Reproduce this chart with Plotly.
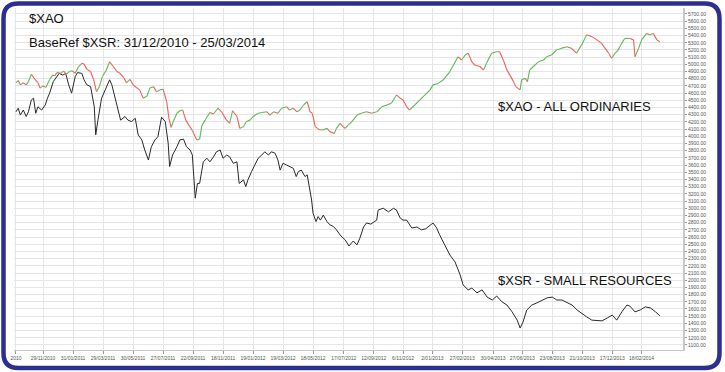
import plotly.graph_objects as go

# ---------------- data (trading-day index since start, index level) ----------------
xao_day = [0, 3, 6, 10, 14, 17, 21, 26, 30, 33, 37, 41, 46, 50, 53, 56, 61, 65, 69, 73, 77,
           81, 85, 90, 93, 97, 102, 106, 110, 114, 118, 123, 128, 133, 138, 142, 147, 151, 156,
           160, 165, 169, 174, 179, 183, 188, 192, 197, 201, 206, 209, 212, 215, 220, 224, 228,
           232, 237, 241, 247, 251, 254, 260, 265, 270, 276, 281, 287,
           292, 296, 302, 306, 311, 315, 320, 324, 331, 336, 343, 347, 352, 358, 363, 370, 374,
           379, 384, 388, 393, 398, 402, 405, 409, 412, 415, 420, 425, 429, 435, 438, 443, 447,
           450, 454, 459, 466, 472, 479, 486, 493, 500, 507, 513, 520, 525, 529, 534, 538, 545,
           552, 559, 566, 570, 577, 584,
           593, 598, 604, 609, 614, 618, 623, 627, 634, 639, 643, 650, 657, 661, 666, 671, 675,
           680, 683, 689, 691, 696, 699, 702, 707, 714, 721, 725, 732, 739, 746, 753, 759, 766,
           773, 780, 787, 794, 800, 805, 810, 814, 819, 823, 828, 832, 839, 844, 846, 851, 855,
           862, 866, 871, 876, 880]
xao_val = [4745, 4775, 4715, 4745, 4715, 4760, 4860, 4790, 4745, 4670, 4700, 4680, 4790, 4850,
           4840, 4885, 4875, 4905, 4865, 4900, 4910, 4875, 4960, 5015, 5005, 4930, 4900, 4790,
           4620, 4690, 4830, 4910, 5035, 4970, 4900, 4875, 4820, 4745, 4790, 4715, 4675, 4645,
           4530, 4560, 4670, 4690, 4620, 4645, 4655, 4480, 4250, 4125, 4205, 4320, 4355, 4365,
           4225, 4145, 4080, 3950, 3960, 4145, 4250, 4330, 4310, 4390, 4340, 4235,
           4180, 4355, 4275, 4110, 4135, 4205, 4225, 4275, 4320, 4330, 4340, 4295, 4340, 4320,
           4390, 4410, 4365, 4390, 4340, 4365, 4435, 4480, 4340, 4320, 4135, 4110, 4090, 4090,
           4110, 4065, 4040, 4110, 4180, 4135, 4110, 4155, 4205, 4295, 4320, 4340, 4320, 4340,
           4410, 4435, 4460, 4575, 4530, 4505, 4410, 4365, 4435, 4505, 4575, 4645, 4715, 4735,
           4785,
           4900, 4990, 5105, 5060, 5130, 5155, 5035, 4990, 4970, 4920, 5015, 5155, 5175, 5175,
           5060, 4920, 4850, 4760, 4690, 4645, 4785, 4805, 4760, 4920, 4970, 5035, 5060, 5105,
           5130, 5200, 5225, 5245, 5225, 5155, 5270, 5410, 5385, 5340, 5295, 5225, 5155, 5085,
           5155, 5200, 5295, 5360, 5360, 5340, 5105, 5225, 5340, 5430, 5410, 5430, 5340, 5315]

xsr_day = [0, 3, 6, 10, 14, 17, 21, 24, 27, 30, 35, 40, 43, 46, 51, 56, 59, 64, 68, 72, 76, 81,
           84, 90, 93, 97, 102, 107, 109, 112, 117, 122, 128, 131, 135, 140, 143, 149, 153, 158,
           163, 167, 172, 176, 181, 185, 190, 194, 199, 204, 208, 210, 214, 220, 224, 229, 233,
           238, 241, 245, 248, 251, 256, 261, 265, 270, 274, 279, 283, 288, 292, 297, 302, 305,
           311, 314, 317, 322, 327, 331, 336, 340, 345, 349, 354, 358, 361, 365, 370, 374, 379,
           383, 386, 390, 395, 398, 402, 404, 406, 410, 413, 416, 420, 425, 429, 434,
           438, 444, 450, 455, 461, 466, 470, 475, 479, 485, 493, 495, 502, 509, 516, 520, 525,
           529, 534, 541, 548, 554, 560, 570, 575,
           579, 586, 593, 600, 607, 611, 618, 623, 630, 637, 644, 651, 657, 664, 671, 678, 685,
           689, 693, 698, 705, 712, 719, 726, 733, 739, 746, 753, 760, 767, 774, 780, 787, 794,
           801, 808, 815, 821, 828, 835, 839, 846, 853, 860, 867, 874, 880]
xsr_val = [4340, 4390, 4295, 4365, 4275, 4340, 4505, 4530, 4320, 4410, 4365, 4435, 4530, 4600,
           4760, 4830, 4875, 4850, 4875, 4715, 4600, 4830, 4885, 4875, 4785, 4715, 4690, 4410,
           4020, 4225, 4530, 4645, 4785, 4715, 4550, 4320, 4225, 4275, 4225, 4205, 4250, 4020,
           3950, 3810, 3670, 3855, 3950, 3995, 4265, 4205, 3905, 3580, 3740, 3855, 3950, 3960,
           3855, 3810, 3740, 3140, 3345, 3345, 3645, 3695, 3645, 3715, 3785, 3810, 3695, 3740,
           3715, 3625, 3645, 3345, 3395, 3300, 3395, 3510, 3625, 3695, 3740, 3785, 3740, 3785,
           3765, 3670, 3530, 3625, 3600, 3580, 3555, 3440, 3510, 3530, 3440, 3465, 3255, 3115,
           2930, 2815, 2885, 2835, 2905, 2815, 2770, 2745,
           2700, 2615, 2560, 2475, 2545, 2490, 2585, 2740, 2795, 2780, 2835, 2975, 3000, 2950,
           3000, 2975, 2865, 2835, 2835, 2725, 2740, 2700, 2715, 2795, 2725,
           2630, 2490, 2350, 2255, 2075, 1935, 1865, 1890, 1825, 1865, 1765, 1725, 1780, 1700,
           1655, 1560, 1445, 1335, 1420, 1585, 1655, 1685, 1725, 1755, 1765, 1725, 1725, 1685,
           1655, 1585, 1530, 1490, 1445, 1445, 1435, 1475, 1515, 1445, 1560, 1655, 1640, 1560,
           1585, 1630, 1615, 1560, 1505]

x_tick_day = [0, 37, 78, 119, 160, 201, 242, 283, 324, 365, 406, 448, 489, 529, 569, 610,
              652, 692, 733, 774, 815, 855]
x_tick_text = ["2010", "29/11/2010", "31/01/2011", "29/03/2011", "30/05/2011", "27/07/2011",
               "22/09/2011", "18/11/2011", "19/01/2012", "19/03/2012", "18/05/2012",
               "17/07/2012", "12/09/2012", "6/11/2012", "2/01/2013", "27/02/2013",
               "30/04/2013", "27/06/2013", "23/08/2013", "21/10/2013", "17/12/2013",
               "18/02/2014"]
y_tick_val = list(range(1100, 5800, 100))
y_tick_text = ["%d.00" % v for v in y_tick_val]

# ---------------- figure ----------------
W, H = 725, 372
ML, MR, MT, MB = 14, 42, 8, 22
PW, PH = W - ML - MR, H - MT - MB

GREEN = "#5fb85a"
RED = "#f0605a"

fig = go.Figure()

# XSR line
fig.add_trace(go.Scatter(x=xsr_day, y=xsr_val, mode="lines",
                         line=dict(color="#2a2a2a", width=1), hoverinfo="skip",
                         showlegend=False))

# XAO line coloured by direction (green up, red down)
gx, gy, rx, ry = [], [], [], []
for i in range(len(xao_day) - 1):
    seg_x = [xao_day[i], xao_day[i + 1], None]
    seg_y = [xao_val[i], xao_val[i + 1], None]
    if xao_val[i + 1] >= xao_val[i]:
        gx += seg_x; gy += seg_y
    else:
        rx += seg_x; ry += seg_y
fig.add_trace(go.Scatter(x=gx, y=gy, mode="lines", line=dict(color=GREEN, width=1.1),
                         hoverinfo="skip", showlegend=False, connectgaps=False))
fig.add_trace(go.Scatter(x=rx, y=ry, mode="lines", line=dict(color=RED, width=1.1),
                         hoverinfo="skip", showlegend=False, connectgaps=False))


def px2paper(px, py):
    return (px - ML) / PW, (H - MB - py) / PH


# rounded navy frame
x0, y0, x1, y1, r = 3.5, 3.5, 719.5, 368, 15


def P(a, b):
    u, v = px2paper(a, b)
    return "%.5f,%.5f" % (u, v)


path = ("M " + P(x0 + r, y0) + " L " + P(x1 - r, y0) + " Q " + P(x1, y0) + " " + P(x1, y0 + r) +
        " L " + P(x1, y1 - r) + " Q " + P(x1, y1) + " " + P(x1 - r, y1) +
        " L " + P(x0 + r, y1) + " Q " + P(x0, y1) + " " + P(x0, y1 - r) +
        " L " + P(x0, y0 + r) + " Q " + P(x0, y0) + " " + P(x0 + r, y0) + " Z")
fig.add_shape(type="path", path=path, xref="paper", yref="paper",
              line=dict(color="#2c2f8e", width=4.5), layer="above")

FONT = "Liberation Sans, Arial, sans-serif"


def ann(text, px, py, size=13):
    u, v = px2paper(px, py)
    fig.add_annotation(text=text, x=u, y=v, xref="paper", yref="paper", showarrow=False,
                       xanchor="left", yanchor="middle",
                       font=dict(family=FONT, size=size, color="#111"))


ann("$XAO", 27, 18)
ann("BaseRef $XSR: 31/12/2010 - 25/03/2014", 27, 42)
ann("$XAO - ALL ORDINARIES", 496, 106)
ann("$XSR - SMALL RESOURCES", 496, 280)

fig.update_layout(
    width=W, height=H,
    margin=dict(l=ML, r=MR, t=MT, b=MB, pad=0),
    paper_bgcolor="white", plot_bgcolor="white",
    font=dict(family=FONT, size=5, color="#555"),
    xaxis=dict(range=[-2.7, 911.6], tickmode="array", tickvals=x_tick_day,
               ticktext=x_tick_text, showgrid=True, gridcolor="#e6e6e6", gridwidth=1,
               zeroline=False, showline=True, linecolor="#c8c8c8", linewidth=1,
               ticks="outside", ticklen=3, tickcolor="#999",
               tickfont=dict(size=5, color="#555"), tickangle=0),
    yaxis=dict(range=[1030, 5783], side="right", tickmode="array", tickvals=y_tick_val,
               ticktext=y_tick_text, showgrid=True, gridcolor="#e6e6e6", gridwidth=1,
               zeroline=False, showline=True, linecolor="#c8c8c8", linewidth=2,
               ticks="outside", ticklen=2, tickcolor="#999",
               tickfont=dict(size=5, color="#555")),
)

fig.write_html("out.html", config={"displayModeBar": False},
               post_script="document.body.style.margin='0';")
